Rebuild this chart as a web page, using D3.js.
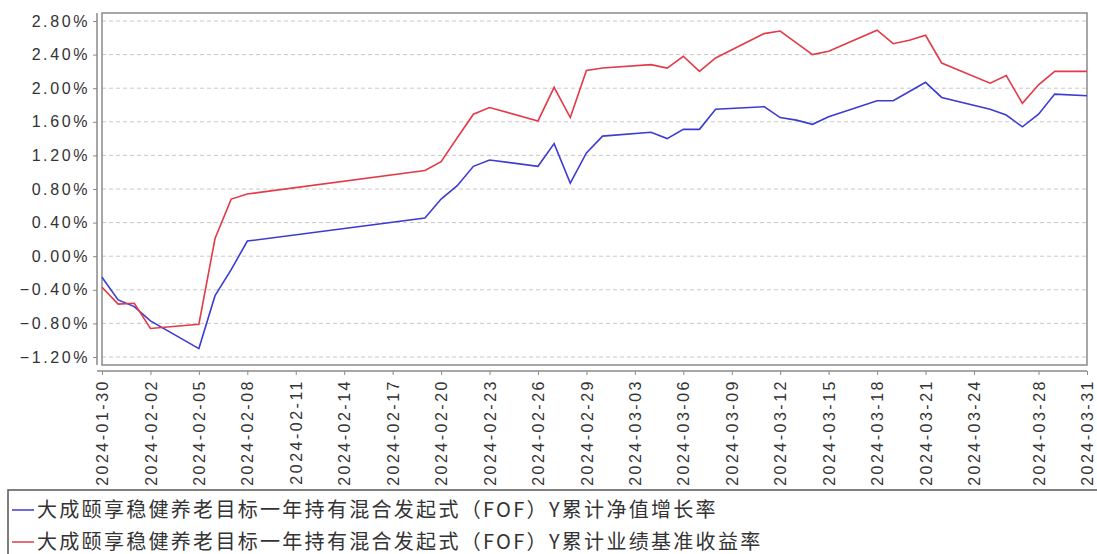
<!DOCTYPE html>
<html lang="zh">
<head>
  <meta charset="UTF-8" />
  <title>累计净值增长率与业绩基准收益率</title>
  <style>
    body {
      margin: 0;
      background: #fff;
      font-family: 'Noto Sans CJK SC', 'Noto Sans', sans-serif;
    }
    svg { display: block; }
    .tick-label {
      font-size: 16px;
      fill: #333;
    }
    .legend-text {
      font-size: 20px;
      fill: #333;
      letter-spacing: 2.3px;
    }
  </style>
</head>
<body>
  <svg id="chart" width="1097" height="554"></svg>

  <script src="https://d3js.org/d3.v7.min.js"></script>
  <script>
    // trading days shown on the chart
    const dates = [
      "2024-01-30", "2024-01-31", "2024-02-01", "2024-02-02",
      "2024-02-05", "2024-02-06", "2024-02-07", "2024-02-08",
      "2024-02-19", "2024-02-20", "2024-02-21", "2024-02-22", "2024-02-23",
      "2024-02-26", "2024-02-27", "2024-02-28", "2024-02-29", "2024-03-01",
      "2024-03-04", "2024-03-05", "2024-03-06", "2024-03-07", "2024-03-08",
      "2024-03-11", "2024-03-12", "2024-03-13", "2024-03-14", "2024-03-15",
      "2024-03-18", "2024-03-19", "2024-03-20", "2024-03-21", "2024-03-22",
      "2024-03-25", "2024-03-26", "2024-03-27", "2024-03-28", "2024-03-29",
      "2024-03-31"
    ];

    // Y累计净值增长率 (%)
    const navGrowth = [
      -0.25, -0.52, -0.60, -0.77,
      -1.10, -0.47, -0.16, 0.18,
      0.455, 0.68, 0.84, 1.07, 1.145,
      1.07, 1.34, 0.87, 1.23, 1.43,
      1.475, 1.40, 1.51, 1.51, 1.75,
      1.78, 1.65, 1.62, 1.57, 1.66,
      1.85, 1.85, 1.96, 2.07, 1.89,
      1.75, 1.68, 1.54, 1.69, 1.93,
      1.91
    ];

    // Y累计业绩基准收益率 (%)
    const benchmark = [
      -0.37, -0.57, -0.56, -0.86,
      -0.81, 0.21, 0.68, 0.74,
      1.02, 1.125, 1.41, 1.69, 1.77,
      1.61, 2.01, 1.65, 2.21, 2.24,
      2.28, 2.24, 2.38, 2.20, 2.36,
      2.65, 2.68, 2.54, 2.40, 2.44,
      2.69, 2.53, 2.57, 2.63, 2.30,
      2.06, 2.15, 1.82, 2.04, 2.20,
      2.20
    ];

    const xTicks = [
      "2024-01-30", "2024-02-02", "2024-02-05", "2024-02-08", "2024-02-11",
      "2024-02-14", "2024-02-17", "2024-02-20", "2024-02-23", "2024-02-26",
      "2024-02-29", "2024-03-03", "2024-03-06", "2024-03-09", "2024-03-12",
      "2024-03-15", "2024-03-18", "2024-03-21", "2024-03-24", "2024-03-28",
      "2024-03-31"
    ];
    const yTicks = [-1.2, -0.8, -0.4, 0, 0.4, 0.8, 1.2, 1.6, 2.0, 2.4, 2.8];

    const seriesNames = [
      "大成颐享稳健养老目标一年持有混合发起式（FOF）Y累计净值增长率",
      "大成颐享稳健养老目标一年持有混合发起式（FOF）Y累计业绩基准收益率"
    ];
    const seriesColors = ["#3c3cd2", "#e23a48"];

    const svg = d3.select("#chart");
    const parse = d3.timeParse("%Y-%m-%d");

    // plot frame
    const plot = { left: 102, right: 1087, top: 13, bottom: 365 };

    const x = d3.scaleTime()
      .domain([parse(xTicks[0]), parse(xTicks[xTicks.length - 1])])
      .range([plot.left, plot.right]);
    const y = d3.scaleLinear()
      .domain([-1.2, 2.8])
      .range([357, 21]);

    // dashed grid
    svg.append("g")
      .selectAll("line")
      .data(yTicks)
      .join("line")
      .attr("x1", plot.left)
      .attr("x2", plot.right)
      .attr("y1", d => y(d))
      .attr("y2", d => y(d))
      .attr("stroke", "#c8c8c8")
      .attr("stroke-dasharray", "4,3");

    // plot border
    svg.append("rect")
      .attr("x", plot.left)
      .attr("y", plot.top)
      .attr("width", plot.right - plot.left)
      .attr("height", plot.bottom - plot.top)
      .attr("fill", "none")
      .attr("stroke", "#8a8a8a")
      .attr("stroke-width", 1.5);

    // y axis, a few px left of the frame
    const yAxis = d3.axisLeft(y)
      .tickValues(yTicks)
      .tickSize(4)
      .tickPadding(5)
      .tickFormat(d => d3.format(".2f")(d) + "%");
    const yAxisG = svg.append("g")
      .attr("transform", "translate(97,0)")
      .call(yAxis);
    yAxisG.select(".domain")
      .attr("d", `M0,${plot.top}V${plot.bottom}`)
      .attr("stroke", "#8a8a8a")
      .attr("stroke-width", 1.5);
    yAxisG.selectAll(".tick line").attr("stroke", "#8a8a8a");
    yAxisG.selectAll(".tick text")
      .attr("class", "tick-label")
      .attr("font-family", null)
      .attr("font-size", null)
      .style("letter-spacing", "2.6px")
      .attr("dx", 2);

    // x axis, a few px below the frame
    const xAxis = d3.axisBottom(x)
      .tickValues(xTicks.map(parse))
      .tickSize(4)
      .tickFormat(d3.timeFormat("%Y-%m-%d"));
    const xAxisG = svg.append("g")
      .attr("transform", "translate(0,371)")
      .call(xAxis);
    xAxisG.select(".domain")
      .attr("d", `M${plot.left - 5},0H${plot.right}`)
      .attr("stroke", "#8a8a8a")
      .attr("stroke-width", 1.5);
    xAxisG.selectAll(".tick line").attr("stroke", "#8a8a8a");
    xAxisG.selectAll(".tick text")
      .attr("class", "tick-label")
      .attr("font-family", null)
      .attr("font-size", null)
      .style("letter-spacing", "2.5px")
      .attr("transform", "rotate(-90)")
      .attr("text-anchor", "end")
      .attr("x", -8)
      .attr("y", 0)
      .attr("dy", "0.35em");

    // lines
    const allSeries = [navGrowth, benchmark];
    const line = d3.line()
      .x((d, i) => x(parse(dates[i])))
      .y(d => y(d));

    svg.append("g")
      .selectAll("path")
      .data(allSeries)
      .join("path")
      .attr("d", d => line(d))
      .attr("fill", "none")
      .attr("stroke", (d, i) => seriesColors[i])
      .attr("stroke-width", 1.6);

    // legend box
    svg.append("rect")
      .attr("x", 8)
      .attr("y", 490)
      .attr("width", 1100)
      .attr("height", 80)
      .attr("fill", "none")
      .attr("stroke", "#555")
      .attr("stroke-width", 1.5);

    const legend = svg.append("g")
      .selectAll("g")
      .data(seriesNames)
      .join("g")
      .attr("transform", (d, i) => `translate(12, ${510 + i * 32})`);

    legend.append("line")
      .attr("x1", 0)
      .attr("x2", 22)
      .attr("stroke", (d, i) => seriesColors[i])
      .attr("stroke-width", 1.5);

    legend.append("text")
      .attr("class", "legend-text")
      .attr("x", 25)
      .attr("dy", "0.36em")
      .text(d => d);
  </script>
</body>
</html>
